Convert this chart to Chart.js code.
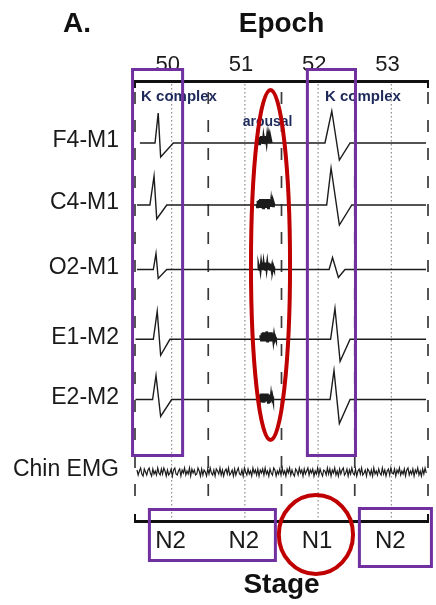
<!DOCTYPE html>
<html>
<head>
<meta charset="utf-8">
<script src="https://cdn.jsdelivr.net/npm/chart.js@4"></script>
<style>
  html, body { margin: 0; padding: 0; background: #fff; }
  #wrap { width: 436px; height: 605px; position: relative; }
</style>
</head>
<body>
<div id="wrap"><canvas id="psg"></canvas></div>
<script>
// ---- Recording content ----------------------------------------------------
const channelNames = ['F4-M1', 'C4-M1', 'O2-M1', 'E1-M2', 'E2-M2', 'Chin EMG'];
const epochNumbers = ['50', '51', '52', '53'];
const epochBounds  = [0, 30, 60, 90, 120];          // seconds, 30 s epochs
const stageLabels  = ['N2', 'N2', 'N1', 'N2'];

// Trace keypoints per derivation: [time (s), amplitude]
const f4M1 = [[2.0,0],[8.2,0],[9.5,30],[10.5,-14],[15.7,0],[77.8,0],[80.6,32],[83.7,-17],[88.1,0],[119.2,0]];
const c4M1 = [[0.8,0],[6.1,0],[7.8,29],[8.9,-14],[13.0,0],[78.5,0],[80.3,37],[83.7,-20],[88.8,0],[119.2,0]];
const o2M1 = [[0.8,0],[7.5,0],[8.6,16],[9.5,-9],[13.0,0],[79.5,0],[80.9,12],[83.3,-8],[86.0,0],[119.2,0]];
const e1M2 = [[0.2,0],[7.5,0],[9.1,28],[10.5,-16],[14.3,0],[80.1,0],[81.9,31],[84.0,-22],[88.1,0],[119.2,0]];
const e2M2 = [[0.2,0],[7.2,0],[8.6,24],[10.5,-17],[15.0,0],[79.9,0],[81.5,29],[83.7,-24],[88.1,0],[119.2,0]];

// Arousal bursts (one sample every 0.25 s) and their onsets (s)
const burstStep = 0.25;
const arousalOnsets = [50.4, 49.8, 50.4, 51.2, 50.5];
const f4Burst = [1,4,-1,6,0,7,1,7,-1,6,2,7,0,6,1,7,2,6,1,5,2,3,0];
const c4Burst = [1,-2,4,-3,5,-2,6,-3,5,-2,6,-3,6,-2,5,-3,6,-2,5,-3,6,-2,5,-2,4,-1,3,-1,2,0];
const o2Burst = [1,3,0,5,0,6,1,7,0,6,1,7,0,7,1,6,0,7,1,6,0,5,1,4,0,3,1,0];
const e1Burst = [1,4,-1,6,-2,7,-1,7,-2,7,-1,8,-2,7,-1,7,-2,6,-1,7,-1,5,-1,4,0,2,0];
const e2Burst = [1,3,-2,5,-2,6,-3,6,-2,6,-3,5,-2,6,-2,6,-3,5,-2,5,-2,4,-1,3,0,1];

// Chin EMG (one sample every 0.5 s from 0.8 s)
const emgStart = 0.8, emgStep = 0.5;
const chinEmg = [
  2,-3,1,4,-2,-4,3,0,-3,2,4,-1,-4,3,-2,1,-3,4,-1,-3,
  3,-2,4,1,-4,2,-3,-1,3,-4,2,4,-2,-3,1,3,-4,2,-1,4,
  -3,1,-2,4,-4,3,-1,2,-3,-2,4,1,-4,3,-3,2,0,-4,3,-2,
  4,-1,-3,2,-4,3,1,-2,4,-3,2,-4,1,3,-2,4,-3,-1,2,-4,
  3,-3,1,4,-2,-3,2,-4,4,0,-3,3,-2,1,-4,4,-1,2,-3,3,
  -4,2,-1,3,-3,4,-2,1,-4,3,-1,-3,4,2,-4,1,-2,3,-3,4,
  -2,1,-4,3,-1,4,-3,2,-2,-4,3,1,-3,4,-1,2,-4,3,-2,1,
  4,-3,2,-1,3,-4,1,-2,4,-3,3,-1,-4,2,1,-3,4,-2,3,-4,
  2,-1,4,-3,1,-4,3,-2,2,4,-3,-1,3,-4,2,-2,4,-1,-3,3,
  -4,1,3,-2,4,-3,-1,2,-4,3,1,-3,2,-4,4,-2,1,-3,3,-1,
  -3,4,-2,2,-4,1,3,-3,4,-1,-2,3,-4,2,-1,4,-3,1,-2,3,
  -4,2,4,-3,1,-2,3,-4,2,-1,4,-3,1,-4,3,-2,4,-1];

// ---- Layout constants -------------------------------------------------------
// vertical baseline of each trace on the montage axis (0 = bottom, 440 = top)
const traceOffsets = [378, 316, 251.5, 181.7, 121.5, 49];

// Scored events: text and anchor [time, montage value]
const eventNotes = [
  { text: 'K complex', t: 2.5,  v: 424, align: 'left',   size: 15 },
  { text: 'arousal',   t: 54.3, v: 399, align: 'center', size: 14 },
  { text: 'K complex', t: 77.8, v: 424, align: 'left',   size: 15 }
];

// Highlight frames [t0, t1, v0, v1] and rings [t, v, half-width s, half-height]
const highlightBoxes = [
  [-1.0, 19.5, 451.5, 65.5],
  [70.6, 90.3, 451.5, 65.5],
  [5.9, 57.5, 11.5, -39.5],
  [91.9, 121.4, 12.5, -45.5]
];
const highlightRings = [
  [55.5, 256, 8.0, 175],
  [74.1, -13.5, 15.2, 39.5]
];

// ---- Build datasets ---------------------------------------------------------
const keyTraces = [f4M1, c4M1, o2M1, e1M2, e2M2];
const bursts = [f4Burst, c4Burst, o2Burst, e1Burst, e2Burst];
const lineStyle = { showLine: true, pointRadius: 0, tension: 0, fill: false, borderColor: '#1c1c1c' };

const datasets = [];
keyTraces.forEach((trace, i) => {
  const off = traceOffsets[i];
  datasets.push(Object.assign({
    label: channelNames[i],
    data: trace.map(([t, a]) => ({ x: t, y: off + a })),
    borderWidth: 1.4
  }, lineStyle));
  // arousal burst overlaid on the same derivation
  datasets.push(Object.assign({
    label: channelNames[i] + ' arousal',
    data: bursts[i].map((a, k) => ({ x: arousalOnsets[i] + k * burstStep, y: off + a })),
    borderWidth: 2.4
  }, lineStyle));
});
datasets.push(Object.assign({
  label: channelNames[5],
  data: chinEmg.map((a, k) => ({ x: emgStart + k * emgStep, y: traceOffsets[5] + a })),
  borderWidth: 1.2
}, lineStyle));

const epochMids = epochBounds.slice(0, -1).map((b, i) => (b + epochBounds[i + 1]) / 2);

// ---- Plugins ----------------------------------------------------------------
const epochGuides = {
  id: 'epochGuides',
  beforeDatasetsDraw(chart) {
    const { ctx, chartArea: a, scales: { x } } = chart;
    const seg = (x1, y1, x2, y2) => { ctx.beginPath(); ctx.moveTo(x1, y1); ctx.lineTo(x2, y2); ctx.stroke(); };
    ctx.save();
    // mid-epoch dotted markers
    ctx.strokeStyle = '#8c8c8c'; ctx.lineWidth = 1.2; ctx.setLineDash([1.5, 2.5]);
    epochMids.forEach(t => { const px = x.getPixelForValue(t); seg(px, a.top + 3, px, a.bottom - 2); });
    // epoch boundaries
    ctx.strokeStyle = '#3a3a3a'; ctx.lineWidth = 1.7; ctx.setLineDash([12, 16]); ctx.lineDashOffset = 17;
    epochBounds.forEach(t => { const px = x.getPixelForValue(t); seg(px, a.top, px, a.bottom - 12); });
    // bracket end caps on the epoch and stage axes
    ctx.setLineDash([]); ctx.strokeStyle = '#111'; ctx.lineWidth = 2;
    [a.left, a.right].forEach(px => { seg(px, a.top, px, a.top + 7); seg(px, a.bottom - 7, px, a.bottom); });
    ctx.restore();
  },
  afterDatasetsDraw(chart) {
    const { ctx, scales: { x, y } } = chart;
    ctx.save();
    ctx.fillStyle = '#1f2a5c';
    ctx.textBaseline = 'middle';
    eventNotes.forEach(n => {
      ctx.font = 'bold ' + n.size + 'px "Liberation Sans", Arial, sans-serif';
      ctx.textAlign = n.align;
      ctx.fillText(n.text, x.getPixelForValue(n.t), y.getPixelForValue(n.v));
    });
    ctx.restore();
  },
  afterDraw(chart) {
    const { ctx, scales: { x, y } } = chart;
    ctx.save();
    // panel letter
    ctx.fillStyle = '#111';
    ctx.font = 'bold 28px "Liberation Sans", Arial, sans-serif';
    ctx.textAlign = 'left'; ctx.textBaseline = 'middle';
    ctx.fillText('A.', 63, 24);
    // purple frames
    ctx.strokeStyle = '#7030a0'; ctx.lineWidth = 3;
    highlightBoxes.forEach(([t0, t1, v0, v1]) => {
      const x0 = x.getPixelForValue(t0), x1 = x.getPixelForValue(t1);
      const y0 = y.getPixelForValue(v0), y1 = y.getPixelForValue(v1);
      ctx.strokeRect(x0, y0, x1 - x0, y1 - y0);
    });
    // red rings
    ctx.strokeStyle = '#c00000'; ctx.lineWidth = 4;
    highlightRings.forEach(([t, v, dt, dv]) => {
      const cx = x.getPixelForValue(t), cy = y.getPixelForValue(v);
      const rx = x.getPixelForValue(t + dt) - cx, ry = cy - y.getPixelForValue(v + dv);
      ctx.beginPath(); ctx.ellipse(cx, cy, rx, ry, 0, 0, Math.PI * 2); ctx.stroke();
    });
    ctx.restore();
  }
};

// ---- Chart ------------------------------------------------------------------
Chart.defaults.font.family = '"Liberation Sans", Arial, sans-serif';

const midTicks = s => { s.ticks = epochMids.map(v => ({ value: v })); };

new Chart(document.getElementById('psg'), {
  type: 'scatter',
  data: { datasets },
  options: {
    responsive: true,
    maintainAspectRatio: false,
    animation: false,
    events: [],
    layout: { padding: { top: 0, right: 8, bottom: 0, left: 0 } },
    plugins: { legend: { display: false }, tooltip: { enabled: false } },
    scales: {
      x: {
        type: 'linear', position: 'top', min: 0, max: 120,
        afterFit(s) { s.height = 81; },
        afterBuildTicks: midTicks,
        ticks: {
          callback: (v, i) => epochNumbers[i],
          font: { size: 22 }, color: '#1a1a1a', padding: 3,
          autoSkip: false, maxRotation: 0, labelOffset: -4
        },
        grid: { display: false, drawTicks: false },
        border: { display: true, color: '#111', width: 3 },
        title: { display: true, text: 'Epoch', font: { size: 28, weight: 'bold' }, color: '#111', padding: { top: 7, bottom: 0 } }
      },
      stage: {
        type: 'linear', position: 'bottom', min: 0, max: 120,
        afterFit(s) { s.height = 84; },
        afterBuildTicks: midTicks,
        ticks: {
          callback: (v, i) => stageLabels[i],
          font: { size: 24 }, color: '#1a1a1a', padding: 6,
          autoSkip: false, maxRotation: 0, labelOffset: -1
        },
        grid: { display: false, drawTicks: false },
        border: { display: true, color: '#111', width: 3 },
        title: { display: true, text: 'Stage', font: { size: 28, weight: 'bold' }, color: '#111', padding: { top: 0, bottom: 3 } }
      },
      y: {
        type: 'linear', position: 'left', min: 0, max: 440,
        afterFit(s) { s.width = 135; },
        afterBuildTicks(s) { s.ticks = traceOffsets.map(v => ({ value: v })); },
        ticks: {
          callback: (v, i) => channelNames[i],
          font: { size: 23 }, color: '#1a1a1a', padding: 16,
          autoSkip: false, labelOffset: -2
        },
        grid: { display: false, drawTicks: false },
        border: { display: false }
      }
    }
  },
  plugins: [epochGuides]
});
</script>
</body>
</html>
